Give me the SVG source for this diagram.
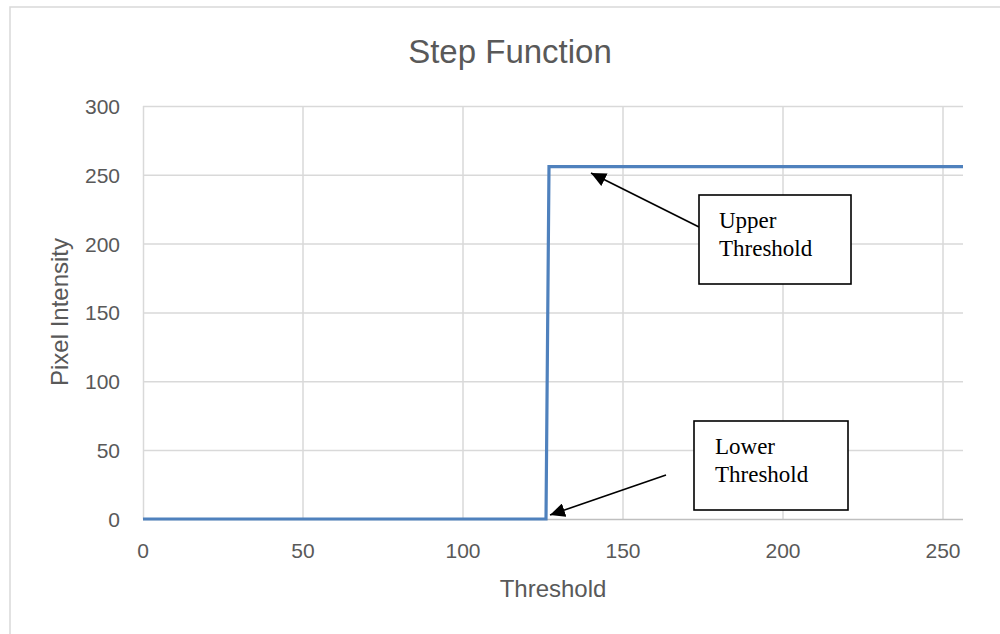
<svg xmlns="http://www.w3.org/2000/svg" width="1000" height="634" viewBox="0 0 1000 634">
<style>
.grid{stroke:#d9d9d9;stroke-width:1.5;fill:none}
.axis{stroke:#bfbfbf;stroke-width:1.5;fill:none}
.tick{font-family:"Liberation Sans",Arial,sans-serif;font-size:21px;fill:#595959}
.atitle{font-family:"Liberation Sans",Arial,sans-serif;font-size:24px;fill:#595959}
.box{fill:#fff;stroke:#000;stroke-width:1.6}
.lbl{font-family:"Liberation Serif","Times New Roman",serif;font-size:23px;fill:#000}
.conn{stroke:#000;stroke-width:1.6;fill:none;marker-end:url(#ah)}
</style>
<defs>
<marker id="ah" markerUnits="userSpaceOnUse" markerWidth="16" markerHeight="14" refX="15" refY="7" orient="auto">
<path d="M0,0 L15,7 L0,14 Z" fill="#000"/>
</marker>
</defs>
<rect x="0" y="0" width="1000" height="634" fill="#fff"/>
<rect x="10" y="7" width="1000" height="640" fill="#fff" stroke="#d9d9d9" stroke-width="1.5"/>
<text x="510" y="63" text-anchor="middle" font-family="Liberation Sans,Arial,sans-serif" font-size="33" fill="#595959">Step Function</text>
<g id="grid">
<path class="grid" d="M143,106.5H963M143,175.3H963M143,244.1H963M143,312.9H963M143,381.7H963M143,450.5H963"/>
<path class="grid" d="M143.5,106V519M303,106V519M463,106V519M623,106V519M783,106V519M943,106V519"/>
<path class="axis" d="M143,519.5H963"/>
</g>
<g id="ylabels" class="tick" text-anchor="end">
<text x="120" y="114">300</text>
<text x="120" y="183">250</text>
<text x="120" y="252">200</text>
<text x="120" y="320">150</text>
<text x="120" y="389">100</text>
<text x="120" y="458">50</text>
<text x="120" y="527">0</text>
</g>
<g id="xlabels" class="tick" text-anchor="middle">
<text x="143" y="558">0</text>
<text x="303" y="558">50</text>
<text x="463" y="558">100</text>
<text x="623" y="558">150</text>
<text x="783" y="558">200</text>
<text x="943" y="558">250</text>
</g>
<text class="atitle" x="553" y="597" text-anchor="middle">Threshold</text>
<text class="atitle" transform="translate(68,312) rotate(-90)" text-anchor="middle">Pixel Intensity</text>
<g id="series">
<polyline points="143,519 546,519 549,166.7 963,166.7" fill="none" stroke="#4f81bd" stroke-width="3.2" stroke-linejoin="miter"/>
</g>
<g id="connectors">
<line class="conn" x1="699" y1="227" x2="591" y2="173"/>
<line class="conn" x1="666" y1="475" x2="550" y2="515"/>
</g>
<g id="upper">
<rect class="box" x="699" y="195" width="152" height="89"/>
<text class="lbl" x="719" y="228">Upper</text>
<text class="lbl" x="719" y="256">Threshold</text>
</g>
<g id="lower">
<rect class="box" x="694" y="421" width="154" height="89"/>
<text class="lbl" x="715" y="454">Lower</text>
<text class="lbl" x="715" y="482">Threshold</text>
</g>
</svg>
